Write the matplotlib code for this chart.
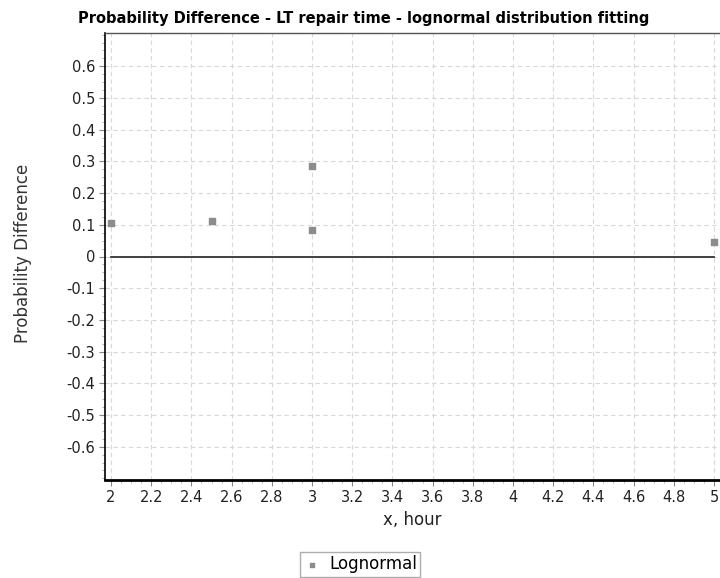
import matplotlib
matplotlib.use("Agg")
import matplotlib.pyplot as plt
from matplotlib.ticker import MultipleLocator, FixedLocator, FuncFormatter

x_vals = [2.0, 2.5, 3.0, 3.0, 5.0]
y_vals = [0.105, 0.113, 0.287, 0.085, 0.046]
zero_line_x = [2.0, 5.0]
zero_line_y = [0.0, 0.0]
x_ticks = [2.0, 2.2, 2.4, 2.6, 2.8, 3.0, 3.2, 3.4, 3.6, 3.8, 4.0, 4.2, 4.4, 4.6, 4.8, 5.0]
y_ticks = [-0.6, -0.5, -0.4, -0.3, -0.2, -0.1, 0.0, 0.1, 0.2, 0.3, 0.4, 0.5, 0.6]

title = "Probability Difference - LT repair time - lognormal distribution fitting"
xlabel = "x, hour"
ylabel = "Probability Difference"
legend_label = "Lognormal"

plt.rcParams['font.family'] = ['DejaVu Sans']
fig = plt.figure(figsize=(7.2, 5.78), dpi=100)
ax = fig.add_axes([105/720, 1-480/578, 1-105/720, (480-33)/578])

ax.plot(zero_line_x, zero_line_y, color='#333333', lw=1.3, zorder=2)
ax.scatter(x_vals, y_vals, marker='s', s=13, color='#8c8c8c', label=legend_label, zorder=3)

ax.set_xlim(1.97, 5.03)
ax.set_ylim(-0.705, 0.705)
ax.xaxis.set_major_locator(FixedLocator(x_ticks))
ax.xaxis.set_minor_locator(MultipleLocator(0.05))
ax.yaxis.set_major_locator(FixedLocator(y_ticks))
ax.yaxis.set_minor_locator(MultipleLocator(0.025))

def fmt(v, pos):
    s = f"{v:.1f}"
    if s.endswith(".0"):
        s = s[:-2]
    if s == "-0":
        s = "0"
    return s
ax.xaxis.set_major_formatter(FuncFormatter(fmt))
ax.yaxis.set_major_formatter(FuncFormatter(fmt))

ax.grid(True, which='major', color='#d8d8d8', linestyle=(0, (4, 3)), lw=0.8)
ax.tick_params(which='major', length=4, color='#888888', labelsize=10.5, colors='#222222')
ax.tick_params(which='minor', length=2, color='#aaaaaa')
ax.tick_params(axis='y', which='major', pad=3)
for side in ['left', 'bottom']:
    ax.spines[side].set_color('black')
ax.spines['bottom'].set_linewidth(2)
ax.spines['left'].set_linewidth(1.2)
ax.spines['top'].set_color('#555555')
ax.spines['top'].set_linewidth(1.0)
ax.spines['right'].set_visible(False)

fig.text(364/720, 1-18/578, title, fontsize=10.5, fontweight='bold', ha='center', va='center')
fig.text(412/720, 1-520/578, xlabel, fontsize=12, color='#222222', ha='center', va='center')
fig.text(23/720, 1-253/578, ylabel, fontsize=12, color='#333333', rotation=90,
         ha='center', va='center')

leg = fig.legend(loc='upper left', bbox_to_anchor=(300/720, 1-552/578), frameon=True,
                 fancybox=False, edgecolor='#999999', fontsize=12, borderaxespad=0,
                 handlelength=1.0, handletextpad=0.55, borderpad=0.2, markerscale=0.7)
leg.get_frame().set_linewidth(1.0)
fig.savefig("out.png", dpi=100)
